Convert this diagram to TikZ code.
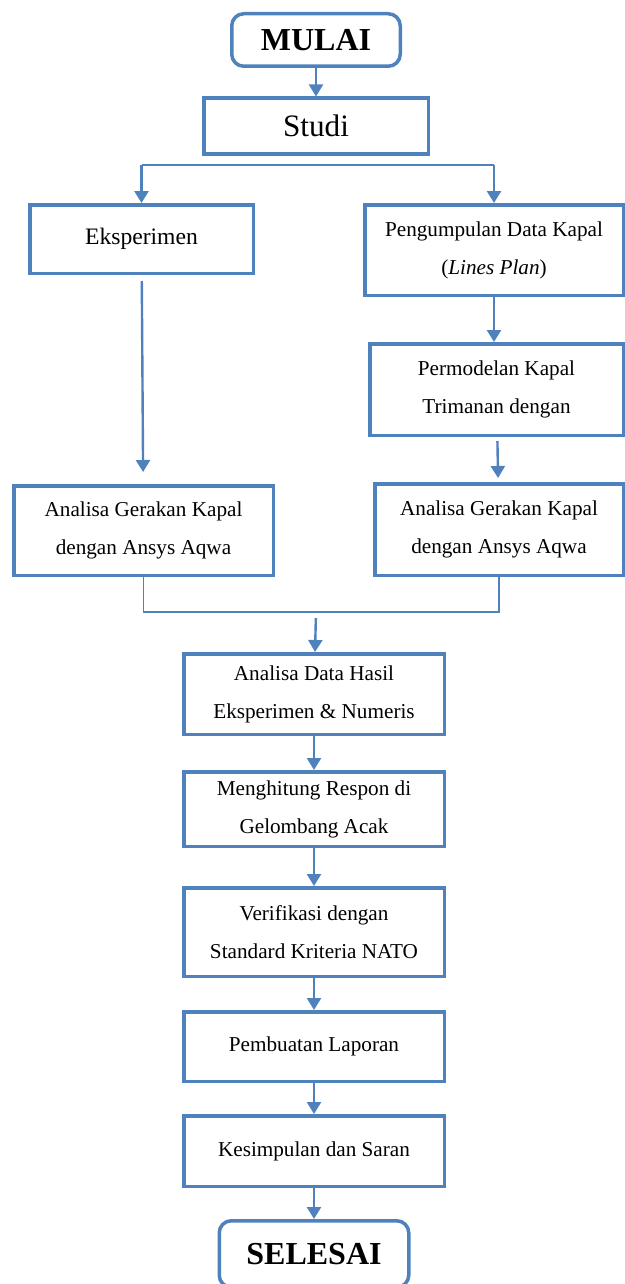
\documentclass[tikz,border=0pt]{standalone}
\usepackage{fontspec}
\setmainfont{Liberation Serif}
\usetikzlibrary{positioning, arrows.meta}
\definecolor{garisbiru}{HTML}{4F81BD}

\begin{document}
\begin{tikzpicture}  [
        x = 0.5pt, y = -0.5pt,
        node distance = 16pt,
        kotak/.style = {rectangle, draw=garisbiru, line width=1.75pt, align=center,
                        inner sep=0pt, minimum width=130.25pt,
                        font=\fontsize{10.6}{19}\selectfont},
        terminal/.style = {kotak, rounded corners=6pt, font=\fontsize{16}{19}\selectfont\bfseries},
        panah/.style = {draw=garisbiru, line width=1.2pt, -{Triangle[length=6pt, width=7pt]}},
        cabang/.style = {draw=garisbiru, line width=0.9pt}
    ]
    \useasboundingbox (0,0) rectangle (625,1284);

    \node[terminal, minimum width=84.25pt, minimum height=26.25pt] (mulai) at (316,40) {MULAI};
    \node[kotak, minimum width=112.25pt, minimum height=27.75pt,
          font=\fontsize{15.6}{19}\selectfont] (studi) at (316,126) {Studi};

    % dua cabang
    \node[kotak, minimum width=111.75pt, minimum height=34.25pt,
          font=\fontsize{11.8}{19}\selectfont] (eksp) at (141.5,239) {Eksperimen};
    \node[kotak, minimum width=129.25pt, minimum height=45.25pt] (data)     at (494,250)     {Pengumpulan Data Kapal\\(\textit{Lines Plan})};
    \node[kotak, minimum width=126.75pt, minimum height=45.75pt] (model)    at (496.5,389.5) {Permodelan Kapal\\Trimanan dengan};
    \node[kotak, minimum width=129.75pt, minimum height=44.75pt] (analisaL) at (143.5,530.5) {Analisa Gerakan Kapal\\dengan Ansys Aqwa};
    \node[kotak, minimum width=124.25pt, minimum height=45.75pt] (analisaR) at (499,529.5)   {Analisa Gerakan Kapal\\dengan Ansys Aqwa};

    % alur utama
    \node[kotak, minimum height=40.25pt] (hasil) at (314,694) {Analisa Data Hasil\\Eksperimen \& Numeris};
    \node[kotak, minimum height=37.25pt, below = 17pt of hasil]     (respon)  {Menghitung Respon di\\Gelombang Acak};
    \node[kotak, minimum height=44.25pt, below = 19pt of respon]    (verif)   {Verifikasi dengan\\Standard Kriteria NATO};
    \node[kotak, minimum height=34.75pt, below = 16pt of verif]     (laporan) {Pembuatan Laporan};
    \node[kotak, minimum height=35.25pt, below = 15.5pt of laporan] (simpul)  {Kesimpulan dan Saran};
    \node[terminal, minimum width=94.75pt, minimum height=33.25pt,
          below = 15.5pt of simpul] (selesai) {SELESAI};

    \coordinate (pisah) at (316,165);
    \coordinate (kiri)  at (eksp.north |- pisah);
    \coordinate (kanan) at (data.north |- pisah);
    \coordinate (gabung) at (316,612);

    \draw[panah] (mulai) -- (studi);
    \draw[cabang] (kiri) -- (kanan);
    \draw[panah] (kiri) -- (eksp);
    \draw[panah] (kanan) -- (data);
    \draw[panah, shorten <=3pt, shorten >=6pt] (eksp) -- (analisaL);
    \draw[panah] (data.south) -- (data.south |- model.north);
    \draw[panah, shorten <=2pt, shorten >=2pt] (model) -- (analisaR);
    \draw[cabang] (analisaL.south) |- (gabung) -| (analisaR.south);
    \draw[panah, shorten <=3pt] (gabung) -- (hasil);

    \foreach \a/\b in {hasil/respon, respon/verif, verif/laporan, laporan/simpul, simpul/selesai}
        \draw[panah] (\a) -- (\b);

\end{tikzpicture}
\end{document}
